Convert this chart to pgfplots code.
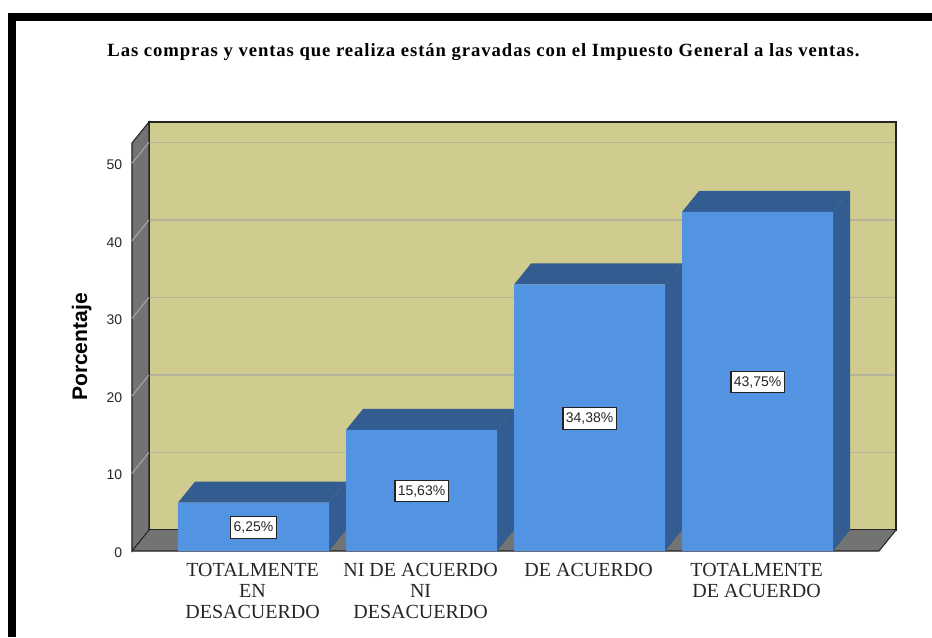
\documentclass[border=0pt]{standalone}
\usepackage{fontspec}
\setmainfont{Liberation Sans}
\newfontfamily\ser{Liberation Serif}
\newfontfamily\sertitle[LetterSpace=5]{Liberation Serif}
\usepackage{pgfplots}
\pgfplotsset{compat=1.18}
\usepackage{pgfplotstable}
\definecolor{wall}{RGB}{208,203,142}
\definecolor{side}{RGB}{115,115,115}
\definecolor{front}{RGB}{82,148,226}
\definecolor{dark}{RGB}{51,92,144}
\definecolor{gridc}{RGB}{181,180,154}
\definecolor{gridw}{RGB}{165,165,165}
\definecolor{edge}{RGB}{35,35,35}
\pgfplotstableread{
x y half
0 6.25 3.125
1 15.63 7.815
2 34.38 17.19
3 43.75 21.875
}\bardata
\begin{document}
\begin{tikzpicture}[x=1pt,y=1pt]
\path[use as bounding box] (0,0) rectangle (699,477.75);
\fill[black] (6,0) rectangle (12,468);
\fill[black] (6,462) rectangle (699,468);
\begin{axis}[
  at={(99pt,64.5pt)}, anchor=south west,
  scale only axis, width=573pt, height=321.75pt,
  xmin=-0.7232, xmax=3.824, ymin=0, ymax=55.33,
  clip=false,
  axis line style={draw=none},
  tick style={draw=none},
  xtick={0,1,2,3},
  xticklabels={{TOTALMENTE\\EN\\DESACUERDO},{NI DE ACUERDO\\NI\\DESACUERDO},{DE ACUERDO},{TOTALMENTE\\DE ACUERDO}},
  x tick label style={align=center,anchor=north,font=\ser\fontsize{15}{15.75}\selectfont,yshift=-5.5pt,xshift=-0.7pt,text=black!85},
  ytick={0,10,20,30,40,50},
  y tick label style={font=\fontsize{10.5}{12}\selectfont,xshift=-3.8pt,yshift=-1pt,text=black!85},
  /pgf/number format/assume math mode=true,
  title={Las compras y ventas que realiza están gravadas con el Impuesto General a las ventas.},
  title style={font=\sertitle\bfseries\fontsize{14}{15}\selectfont,at={(axis description cs:0.460,1.145)},anchor=center},
  ylabel={Porcentaje},
  ylabel style={font=\bfseries\fontsize{15.8}{17}\selectfont,at={(axis description cs:-0.066,0.4755)},anchor=center},
]
% back wall
\addplot[fill=wall,draw=edge,line width=0.8pt] coordinates {(-0.622,2.708)(3.824,2.708)(3.824,55.33)(-0.622,55.33)} --cycle;
% floor
\addplot[fill=side,draw=none] coordinates {(-0.7232,0)(-0.622,2.708)(3.824,2.708)(3.7228,0)} --cycle;
\addplot[draw=edge,line width=0.8pt] coordinates {(-0.7232,0)(3.7228,0)(3.824,2.708)};
% left wall
\addplot[fill=side,draw=edge,line width=0.8pt] coordinates {(-0.7232,0)(-0.622,2.708)(-0.622,55.33)(-0.7232,52.62)} --cycle;
% gridlines
\addplot[gridc,line width=1.2pt] coordinates {(-0.615,12.708)(3.818,12.708)};
\addplot[gridc,line width=1.2pt] coordinates {(-0.615,22.708)(3.818,22.708)};
\addplot[gridc,line width=1.2pt] coordinates {(-0.615,32.708)(3.818,32.708)};
\addplot[gridc,line width=1.2pt] coordinates {(-0.615,42.708)(3.818,42.708)};
\addplot[gridc,line width=1.2pt] coordinates {(-0.615,52.708)(3.818,52.708)};
\addplot[gridw,line width=0.8pt] coordinates {(-0.7232,10)(-0.622,12.708)};
\addplot[gridw,line width=0.8pt] coordinates {(-0.7232,20)(-0.622,22.708)};
\addplot[gridw,line width=0.8pt] coordinates {(-0.7232,30)(-0.622,32.708)};
\addplot[gridw,line width=0.8pt] coordinates {(-0.7232,40)(-0.622,42.708)};
\addplot[gridw,line width=0.8pt] coordinates {(-0.7232,50)(-0.622,52.708)};
% bar 1
\addplot[fill=dark,draw=none] coordinates {(-0.449,6.25)(-0.3478,8.958)(0.5502,8.958)(0.449,6.25)} --cycle;
\addplot[fill=dark,draw=none] coordinates {(0.449,0)(0.5502,2.708)(0.5502,8.958)(0.449,6.25)} --cycle;
% bar 2
\addplot[fill=dark,draw=none] coordinates {(0.551,15.63)(0.6522,18.338)(1.5502,18.338)(1.449,15.63)} --cycle;
\addplot[fill=dark,draw=none] coordinates {(1.449,0)(1.5502,2.708)(1.5502,18.338)(1.449,15.63)} --cycle;
% bar 3
\addplot[fill=dark,draw=none] coordinates {(1.551,34.38)(1.6522,37.088)(2.5502,37.088)(2.449,34.38)} --cycle;
\addplot[fill=dark,draw=none] coordinates {(2.449,0)(2.5502,2.708)(2.5502,37.088)(2.449,34.38)} --cycle;
% bar 4
\addplot[fill=dark,draw=none] coordinates {(2.551,43.75)(2.6522,46.458)(3.5502,46.458)(3.449,43.75)} --cycle;
\addplot[fill=dark,draw=none] coordinates {(3.449,0)(3.5502,2.708)(3.5502,46.458)(3.449,43.75)} --cycle;
% fronts
\addplot[ybar,bar width=0.899,bar shift=0pt,fill=front,draw=none] table[x=x,y=y] {\bardata};
% value boxes
\addplot[draw=none,mark=none,
  point meta=explicit,
  nodes near coords={\pgfmathprintnumber[fixed,fixed zerofill,precision=2,use comma]{\pgfplotspointmeta}\%},
  nodes near coords align={center},
  every node near coord/.append style={font=\fontsize{10.5}{12}\selectfont,fill=white,draw=edge,line width=0.8pt,inner xsep=2.1pt,inner ysep=3pt,minimum height=16pt,anchor=center,yshift=-0.6pt,text=black!85,/pgf/number format/assume math mode=true},
] table[x=x,y=half,meta=y] {\bardata};
\end{axis}
\end{tikzpicture}
\end{document}
